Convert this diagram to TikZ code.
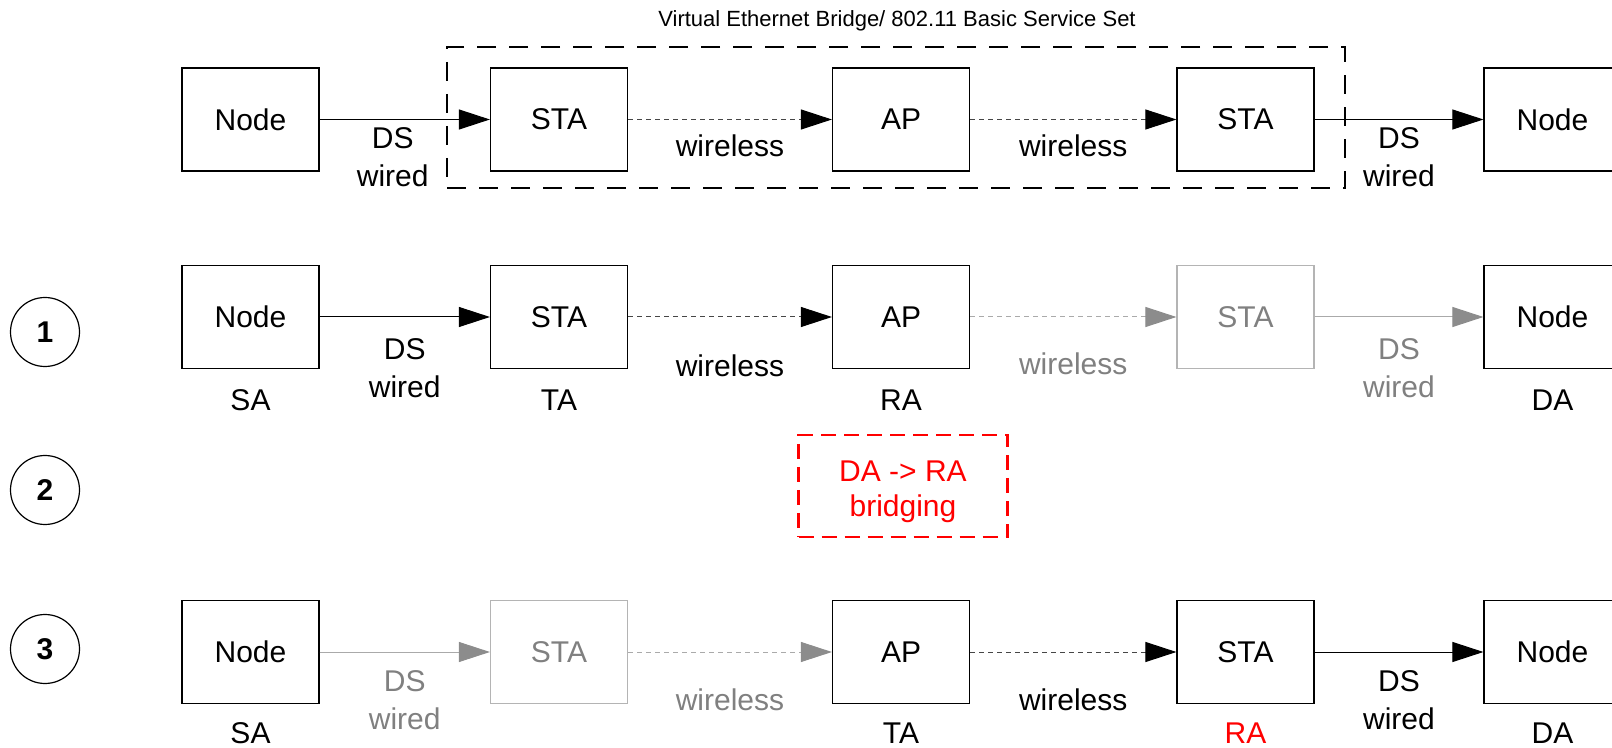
\documentclass[tikz,border=0pt]{standalone}
\usepackage{fontspec}
\setmainfont{Liberation Sans}
\usetikzlibrary{arrows.meta}
\usetikzlibrary{positioning}
\definecolor{fadeline}{RGB}{170,170,170}
\definecolor{fadehead}{RGB}{140,140,140}
\definecolor{fadetext}{RGB}{128,128,128}
\definecolor{fadebox}{RGB}{180,180,180}
\definecolor{airline}{RGB}{70,70,70}

\begin{document}
\begin{tikzpicture}[x=0.5pt, y=-0.5pt,
	every node/.style={font=\fontsize{15}{19}\selectfont},
	box/.style={draw, line width=0.6pt, minimum width=68.5pt, minimum height=51.5pt, inner sep=0pt},
	fadedbox/.style={box, draw=fadebox, text=fadetext},
	addr/.style={inner sep=0pt},
	stepnum/.style={circle, draw, line width=0.6pt, minimum size=34.5pt, inner sep=0pt, font=\bfseries\fontsize{15}{19}\selectfont},
	wire/.style={line width=0.5pt, -{Triangle[length=15.5pt, width=10pt, color=black]}},
	air/.style={wire, draw=airline, dash pattern=on 2.5pt off 2pt},
	fadedwire/.style={line width=0.5pt, draw=fadeline, -{Triangle[length=15.5pt, width=10pt, color=fadehead]}},
	fadedair/.style={fadedwire, dash pattern=on 2.5pt off 2pt},
	ds/.style={midway, align=center, yshift=-24pt}]
\useasboundingbox (0,0) rectangle (1612,748);
\clip (0,0) rectangle (1612,748);

% virtual bridge / BSS
\coordinate (bsscenter) at (896,117.5);
\node(bss)[draw, line width=1.3pt, dash pattern=on 9.5pt off 6.5pt, minimum width=449pt, minimum height=70.5pt] at (bsscenter) {};
\node(bsstitle)[font=\fontsize{11}{13}\selectfont] at (897,21) {Virtual Ethernet Bridge/ 802.11 Basic Service Set};

\coordinate (a0) at (250.5,119.5);
\coordinate (b0) at (559,119.5);
\coordinate (c0) at (901,119.5);
\coordinate (d0) at (1245.5,119.5);
\coordinate (e0) at (1552.5,119.5);

\node(node0a)[box] at (a0) {Node};
\node(sta0a)[box] at (b0) {STA};
\node(ap0)[box] at (c0) {AP};
\node(sta0b)[box] at (d0) {STA};
\node(node0b)[box] at (e0) {Node};

\draw[wire] (node0a) -- node[ds, xshift=-6pt, yshift=5pt] {DS\\wired} (sta0a);
\draw[air] (sta0a) -- node[midway, yshift=-13pt] {wireless} (ap0);
\draw[air] (ap0) -- node[midway, yshift=-13pt] {wireless} (sta0b);
\draw[wire] (sta0b) -- node[ds, yshift=5pt] {DS\\wired} (node0b);

% step 1
\node(step1)[stepnum] at (45,332) {1};

\coordinate (a1) at (250.5,317);
\coordinate (b1) at (559,317);
\coordinate (c1) at (901,317);
\coordinate (d1) at (1245.5,317);
\coordinate (e1) at (1552.5,317);

\node(node1a)[box] at (a1) {Node};
\node(sta1a)[box] at (b1) {STA};
\node(ap1)[box] at (c1) {AP};
\node(sta1b)[fadedbox] at (d1) {STA};
\node(node1b)[box] at (e1) {Node};

\node[addr, below=10pt of node1a] {SA};
\node[addr, below=10pt of sta1a] {TA};
\node[addr, below=10pt of ap1] {RA};
\node[addr, below=10pt of node1b] {DA};

\draw[wire] (node1a) -- node[ds, yshift=-1.5pt] {DS\\wired} (sta1a);
\draw[air] (sta1a) -- node[midway, yshift=-24.5pt] {wireless} (ap1);
\draw[fadedair] (ap1) -- node[midway, yshift=-23.5pt, text=fadetext] {wireless} (sta1b);
\draw[fadedwire] (sta1b) -- node[ds, yshift=-1.5pt, text=fadetext] {DS\\wired} (node1b);

% step 2
\node(step2)[stepnum] at (45,490) {2};
\node(bridge)[draw=red, line width=1.3pt, dash pattern=on 7.5pt off 4pt, minimum width=104.5pt, minimum height=51pt] at (903,486) {};
\node(bridgetext)[text=red, align=center, font=\fontsize{15}{17.5}\selectfont, yshift=-3pt] at (bridge.center) {DA -> RA\\bridging};

% step 3
\node(step3)[stepnum] at (45,649) {3};

\coordinate (a3) at (250.5,652);
\coordinate (b3) at (559,652);
\coordinate (c3) at (901,652);
\coordinate (d3) at (1245.5,652);
\coordinate (e3) at (1552.5,652);

\node(node3a)[box] at (a3) {Node};
\node(sta3a)[fadedbox] at (b3) {STA};
\node(ap3)[box] at (c3) {AP};
\node(sta3b)[box] at (d3) {STA};
\node(node3b)[box] at (e3) {Node};

\node[addr, below=9pt of node3a] {SA};
\node[addr, below=9pt of ap3] {TA};
\node[addr, below=9pt of sta3b, text=red] {RA};
\node[addr, below=9pt of node3b] {DA};

\draw[fadedwire] (node3a) -- node[ds, text=fadetext] {DS\\wired} (sta3a);
\draw[fadedair] (sta3a) -- node[midway, yshift=-24pt, text=fadetext] {wireless} (ap3);
\draw[air] (ap3) -- node[midway, yshift=-24pt] {wireless} (sta3b);
\draw[wire] (sta3b) -- node[ds] {DS\\wired} (node3b);
\end{tikzpicture}
\end{document}
